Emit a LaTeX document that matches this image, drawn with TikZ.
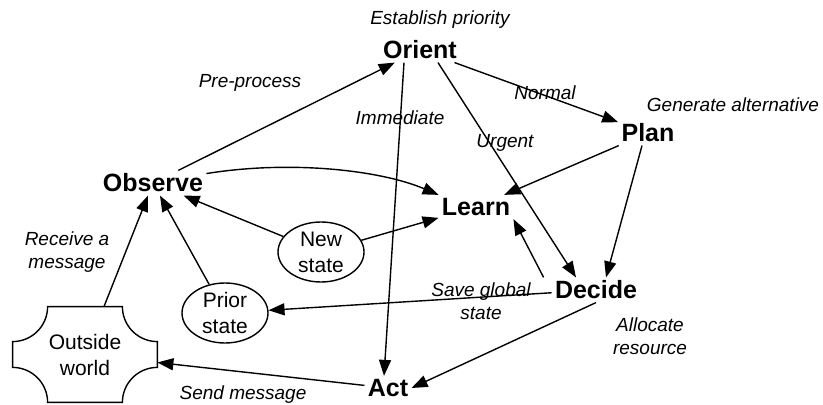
\documentclass[tikz,border=0pt]{standalone}
\usepackage{fontspec}
\setmainfont{Liberation Sans}
\usepackage{tikz}
\usetikzlibrary{arrows.meta,positioning,shapes.geometric}
\tikzset{%
	stage/.style  = {font=\bfseries\fontsize{12.5}{15}\selectfont, inner sep=1.5pt}, % loop stage
	state/.style  = {draw, ellipse, line width=0.7pt, align=center, inner sep=0pt, minimum width=43pt, minimum height=30pt, font=\fontsize{10.5}{13}\selectfont}, % stored state
	world/.style  = {rectangle, align=center, minimum width=72pt, minimum height=47.5pt, font=\fontsize{10.5}{13}\selectfont}, % environment
	note/.style   = {font=\itshape\fontsize{9.5}{11.5}\selectfont, align=center, inner sep=0pt}, % edge text
	arrow/.style  = {line width=0.7pt, -{Triangle[length=8pt,width=6pt]}},
}

\begin{document}
\begin{tikzpicture}[x=0.5pt,y=-0.5pt]
	\useasboundingbox (0,0) rectangle (823,405);
	\node [stage] (orient) at (420,50) {Orient};
	\node [stage] (plan) at (648,133) {Plan};
	\node [stage] (observe) at (153,183) {Observe};
	\node [stage] (learn) at (476,207) {Learn};
	\node [stage] (decide) at (596,290) {Decide};
	\node [stage] (act) at (388,388) {Act};
	\node [state] (new) at (321,252) {New\\state};
	\node [state] (prior) at (225,313) {Prior\\state};
	\node [world] (world) at (85,354.5) {Outside\\world};
	\draw [line width=0.7pt] ([xshift=17.5pt]world.north west) -- ([xshift=-17.5pt]world.north east)
		arc[start angle=180, end angle=270, radius=17.5pt] -- ([yshift=17.5pt]world.south east)
		arc[start angle=90, end angle=180, radius=17.5pt] -- ([xshift=17.5pt]world.south west)
		arc[start angle=0, end angle=90, radius=17.5pt] -- ([yshift=-17.5pt]world.north west)
		arc[start angle=270, end angle=360, radius=17.5pt] -- cycle;
	
	\node [note] (prio) at (440,20) {Establish priority};
	\node [note] (pre) at (250,83) {Pre-process};
	\node [note] (normal) at (545,93) {Normal};
	\node [note] (gen) at (733,105) {Generate alternative};
	\node [note] (immed) at (400,118) {Immediate};
	\node [note] (urgent) at (505,143) {Urgent};
	\node [note] (recv) at (67,252) {Receive a\\message};
	\node [note] (save) at (481,301) {Save global\\state};
	\node [note] (alloc) at (650,336) {Allocate\\resource};
	\node [note] (send) at (243,395) {Send message};
	
	\draw [arrow] (observe) -- (orient);
	\draw [arrow] (orient) -- (plan);
	\draw [arrow] ([xshift=-8pt]orient.south) -- ([xshift=-2pt]act.north);
	\draw [arrow] ([xshift=9pt]orient.south) -- ([xshift=-10pt]decide.north);
	\draw [arrow] (plan) -- (learn);
	\draw [arrow] ([xshift=-3pt]plan.south) -- ([xshift=5pt]decide.north);
	\draw [arrow] (observe.10) .. controls (290,160) and (380,170) .. (learn.north west);
	\draw [arrow] (new) -- (observe);
	\draw [arrow] (new) -- (learn);
	\draw [arrow] (prior) -- (observe);
	\draw [arrow] ([xshift=-4pt]decide.north west) -- (learn.south east);
	\draw [arrow] (decide) -- (prior);
	\draw [arrow] (decide.south) -- (act.east);
	\draw [arrow] (act) -- (world);
	\draw [arrow] (world) -- (observe);
\end{tikzpicture}
\end{document}
